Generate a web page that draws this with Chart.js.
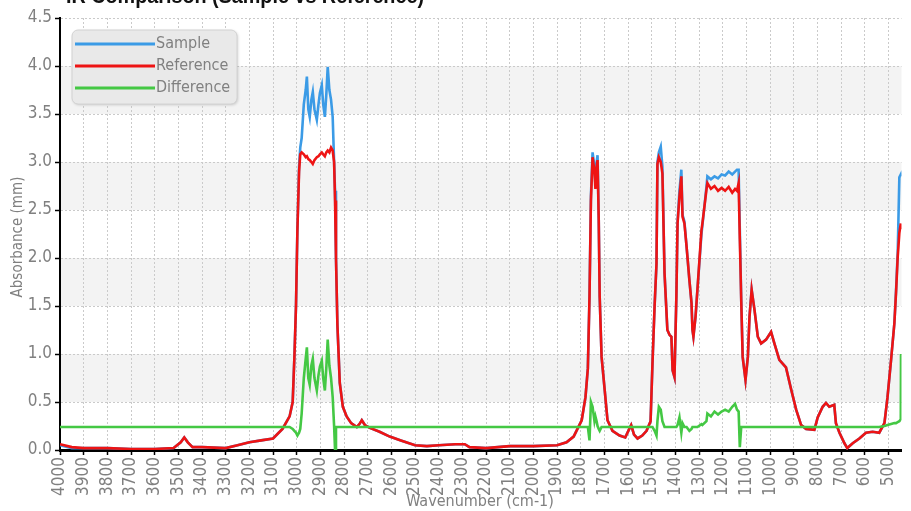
<!DOCTYPE html>
<html>
<head>
<meta charset="utf-8">
<script src="https://cdn.jsdelivr.net/npm/chart.js@4.4.1/dist/chart.umd.min.js"></script>
<style>
  html, body { margin: 0; padding: 0; background: #fff; }
  #wrap { width: 911px; height: 511px; }
</style>
</head>
<body>
<div id="wrap"><canvas id="irChart"></canvas></div>
<script>
// Spectrum data (wavenumber in cm-1, absorbance)
const wavenumbers = [
  4000,3950,3900,3800,3700,3600,3520,3490,3475,3460,
  3440,3400,3300,3250,3200,3150,3100,3060,3030,3017,
  3010,3003,2997,2990,2985,2979,2970,2962,2957,2951,
  2945,2938,2932,2925,2915,2908,2902,2894,2888,2881,
  2875,2869,2862,2855,2848,2842,2838,2834,2828,2818,
  2805,2789,2770,2746,2735,2725,2712,2691,2650,2607,
  2560,2500,2450,2400,2330,2290,2270,2200,2150,2100,
  2000,1900,1860,1830,1796,1780,1770,1763,1757,1750,
  1742,1738,1733,1729,1724,1720,1712,1699,1687,1666,
  1636,1612,1595,1587,1575,1560,1540,1522,1505,1497,
  1488,1480,1476,1470,1462,1455,1446,1434,1425,1417,
  1412,1404,1396,1391,1383,1375,1370,1362,1353,1341,
  1332,1328,1324,1315,1307,1290,1286,1269,1265,1250,
  1235,1220,1205,1190,1175,1160,1148,1140,1133,1128,
  1122,1116,1104,1094,1087,1078,1066,1052,1038,1017,
  996,982,961,933,911,890,869,848,813,799,
  778,764,750,729,722,707,686,674,651,623,
  595,567,539,517,504,489,475,468,461,454,
  448,447
];
const sample = [
  .05,.02,.02,.02,.01,.01,.02,.08,.13,.08,
  .03,.03,.02,.05,.08,.10,.12,.22,.35,.50,
  .95,1.5,2.3,2.95,3.15,3.25,3.6,3.75,3.89,3.55,
  3.47,3.65,3.73,3.55,3.44,3.6,3.72,3.8,3.6,3.47,
  3.7,3.99,3.75,3.65,3.47,3.0,2.7,2.0,1.3,.7,
  .45,.35,.28,.24,.27,.31,.26,.23,.19,.14,
  .10,.05,.04,.05,.06,.06,.03,.02,.03,.04,
  .04,.05,.08,.14,.31,.55,.85,1.6,2.65,3.1,
  2.95,2.76,3.0,3.07,2.4,1.6,.97,.63,.31,.2,
  .15,.13,.22,.26,.16,.12,.15,.2,.3,.9,
  1.5,1.94,3.0,3.1,3.16,2.95,1.84,1.25,1.2,1.18,
  .83,.76,1.6,2.38,2.7,2.92,2.45,2.38,2.12,1.77,
  1.53,1.25,1.18,1.39,1.67,2.25,2.34,2.74,2.85,2.82,
  2.85,2.83,2.87,2.86,2.9,2.87,2.9,2.92,2.92,2.3,
  1.56,.97,.73,.97,1.39,1.67,1.46,1.18,1.11,1.15,
  1.23,1.11,.94,.86,.63,.42,.26,.22,.21,.34,
  .45,.49,.45,.47,.28,.18,.07,.02,.07,.12,
  .18,.19,.18,.28,.55,.94,1.32,1.66,2.05,2.84,
  2.87,2.85
];
const reference = [
  .06,.03,.02,.02,.01,.01,.02,.08,.13,.08,
  .03,.03,.02,.05,.08,.10,.12,.22,.35,.50,
  .95,1.5,2.3,2.9,3.08,3.1,3.08,3.05,3.06,3.03,
  3.02,3.0,2.98,3.02,3.05,3.06,3.08,3.1,3.08,3.06,
  3.1,3.12,3.1,3.15,3.12,3.0,2.6,2.0,1.3,.7,
  .45,.35,.28,.24,.27,.31,.26,.23,.19,.14,
  .10,.05,.04,.05,.06,.06,.03,.02,.03,.04,
  .04,.05,.08,.14,.31,.55,.85,1.6,2.6,3.05,
  2.9,2.72,2.95,3.02,2.4,1.6,.97,.63,.31,.2,
  .15,.13,.22,.26,.16,.12,.15,.2,.3,.9,
  1.5,1.94,2.98,3.05,3.0,2.88,1.84,1.25,1.2,1.18,
  .83,.76,1.6,2.36,2.64,2.85,2.43,2.36,2.12,1.77,
  1.53,1.25,1.18,1.39,1.67,2.29,2.36,2.71,2.78,2.72,
  2.75,2.7,2.73,2.7,2.74,2.68,2.72,2.7,2.78,2.2,
  1.56,.97,.73,.97,1.39,1.67,1.46,1.18,1.11,1.15,
  1.23,1.11,.94,.86,.63,.42,.26,.22,.21,.34,
  .45,.49,.45,.47,.28,.18,.07,.02,.07,.12,
  .18,.19,.18,.28,.55,.94,1.32,1.64,2.01,2.26,
  2.36,2.3
];
const difference = [
  .24,.24,.24,.24,.24,.24,.24,.24,.24,.24,
  .24,.24,.24,.24,.24,.24,.24,.24,.24,.22,
  .20,.18,.15,.18,.22,.38,.75,.95,1.07,.75,
  .68,.88,.95,.75,.62,.78,.87,.93,.75,.62,
  .85,1.15,.88,.75,.55,.25,0,.24,.24,.24,
  .24,.24,.24,.24,.24,.24,.24,.24,.24,.24,
  .24,.24,.24,.24,.24,.24,.24,.24,.24,.24,
  .24,.24,.24,.24,.24,.24,.24,.10,.50,.45,
  .30,.35,.30,.25,.22,.20,.24,.24,.24,.24,
  .24,.24,.24,.24,.24,.24,.24,.24,.24,.24,
  .20,.15,.30,.45,.42,.30,.24,.24,.24,.24,
  .24,.24,.24,.26,.34,.18,.28,.24,.24,.20,
  .22,.24,.24,.24,.24,.27,.26,.30,.38,.35,
  .40,.37,.40,.42,.40,.45,.48,.42,.40,.03,
  .24,.24,.24,.24,.24,.24,.24,.24,.24,.24,
  .24,.24,.24,.24,.24,.24,.24,.24,.24,.24,
  .24,.24,.24,.24,.24,.24,.24,.24,.24,.24,
  .24,.24,.24,.25,.26,.27,.28,.28,.29,.30,
  .32,1.0
];
const seriesNames = ["Sample", "Reference", "Difference"];
const seriesColors = ["#3b9be6", "#ee1414", "#44c844"];
const xRange = [445, 4000];
const yRange = [0, 4.5];

const FONT = "'Liberation Sans Narrow', 'DejaVu Sans Condensed', 'Arial Narrow', sans-serif";
const GREY = "#808080";

function toPoints(values) {
  return wavenumbers.map((w, i) => ({ x: w, y: values[i] }));
}

// light grey horizontal bands behind the grid
const bandsPlugin = {
  id: 'bands',
  beforeDraw(chart) {
    const { ctx, chartArea, scales } = chart;
    ctx.save();
    ctx.fillStyle = '#f3f3f3';
    for (let v = 0.5; v < yRange[1]; v += 1) {
      const y1 = scales.y.getPixelForValue(v + 0.5);
      const y0 = scales.y.getPixelForValue(v);
      ctx.fillRect(chartArea.left, y1, chartArea.right - chartArea.left, y0 - y1);
    }
    ctx.restore();
  }
};

// legend box and axis titles
const decorPlugin = {
  id: 'decor',
  afterDraw(chart) {
    const ctx = chart.ctx;
    ctx.save();

    // title, mostly cut off by the top edge
    const title = 'IR Comparison (Sample vs Reference)';
    ctx.fillStyle = '#111';
    ctx.font = "bold 22px 'Liberation Sans', sans-serif";
    ctx.textBaseline = 'alphabetic';
    ctx.textAlign = 'left';
    const tw = ctx.measureText(title).width;
    ctx.save();
    ctx.translate(66, 3);
    ctx.scale(358 / tw, 1);
    ctx.fillText(title, 0, 0);
    ctx.restore();

    // legend
    ctx.shadowColor = 'rgba(0,0,0,0.18)';
    ctx.shadowBlur = 3;
    ctx.shadowOffsetX = 1;
    ctx.shadowOffsetY = 1;
    ctx.fillStyle = '#e9e9e9';
    ctx.beginPath();
    ctx.roundRect(72, 30, 165, 74, 6);
    ctx.fill();
    ctx.shadowColor = 'transparent';
    ctx.strokeStyle = '#d2d2d2';
    ctx.lineWidth = 1;
    ctx.stroke();

    const rows = [44, 66, 88];
    ctx.font = '16px ' + FONT;
    ctx.textBaseline = 'middle';
    seriesNames.forEach((name, i) => {
      ctx.strokeStyle = seriesColors[i];
      ctx.lineWidth = 3;
      ctx.beginPath();
      ctx.moveTo(75, rows[i]);
      ctx.lineTo(155, rows[i]);
      ctx.stroke();
      ctx.fillStyle = GREY;
      ctx.fillText(name, 156, rows[i]);
    });

    // axis titles
    ctx.fillStyle = GREY;
    ctx.font = '15px ' + FONT;
    ctx.textAlign = 'center';
    ctx.save();
    ctx.translate(18, 237);
    ctx.rotate(-Math.PI / 2);
    ctx.fillText('Absorbance (mm)', 0, 0);
    ctx.restore();

    ctx.font = '16px ' + FONT;
    ctx.fillText('Wavenumber (cm-1)', 480, 502);
    ctx.restore();
  }
};

const ctx = document.getElementById('irChart').getContext('2d');
const irChart = new Chart(ctx, {
  type: 'line',
  data: {
    datasets: [
      { label: seriesNames[2], data: toPoints(difference), borderColor: seriesColors[2], order: 0 },
      { label: seriesNames[1], data: toPoints(reference), borderColor: seriesColors[1], order: 1 },
      { label: seriesNames[0], data: toPoints(sample), borderColor: seriesColors[0], order: 2 }
    ]
  },
  options: {
    responsive: true,
    maintainAspectRatio: false,
    animation: false,
    layout: { padding: { top: 18, right: 9, left: 0, bottom: 0 } },
    elements: {
      line: { borderWidth: 2.6, tension: 0, fill: false },
      point: { radius: 0, hoverRadius: 0 }
    },
    plugins: {
      legend: { display: false },
      tooltip: { enabled: false }
    },
    scales: {
      x: {
        type: 'linear',
        reverse: true,
        min: xRange[0],
        max: xRange[1],
        afterFit(scale) { scale.height = 61; },
        ticks: {
          stepSize: 100,
          includeBounds: false,
          autoSkip: false,
          minRotation: 90,
          maxRotation: 90,
          padding: 2,
          color: GREY,
          font: { family: FONT, size: 17 },
          callback: v => String(v)
        },
        grid: {
          color: '#cacaca',
          tickColor: '#000',
          tickLength: 5,
          tickWidth: 1.5,
          tickBorderDash: []
        },
        border: { color: '#000', width: 3, dash: [2, 2] }
      },
      y: {
        min: yRange[0],
        max: yRange[1],
        afterFit(scale) { scale.width = 60; },
        ticks: {
          stepSize: 0.5,
          padding: 3,
          color: GREY,
          font: { family: FONT, size: 17 },
          callback: v => v.toFixed(1)
        },
        grid: {
          color: '#cacaca',
          tickColor: '#000',
          tickLength: 5,
          tickWidth: 1.5,
          tickBorderDash: []
        },
        border: { color: '#000', width: 2, dash: [2, 2] }
      }
    }
  },
  plugins: [bandsPlugin, decorPlugin]
});
</script>
</body>
</html>
